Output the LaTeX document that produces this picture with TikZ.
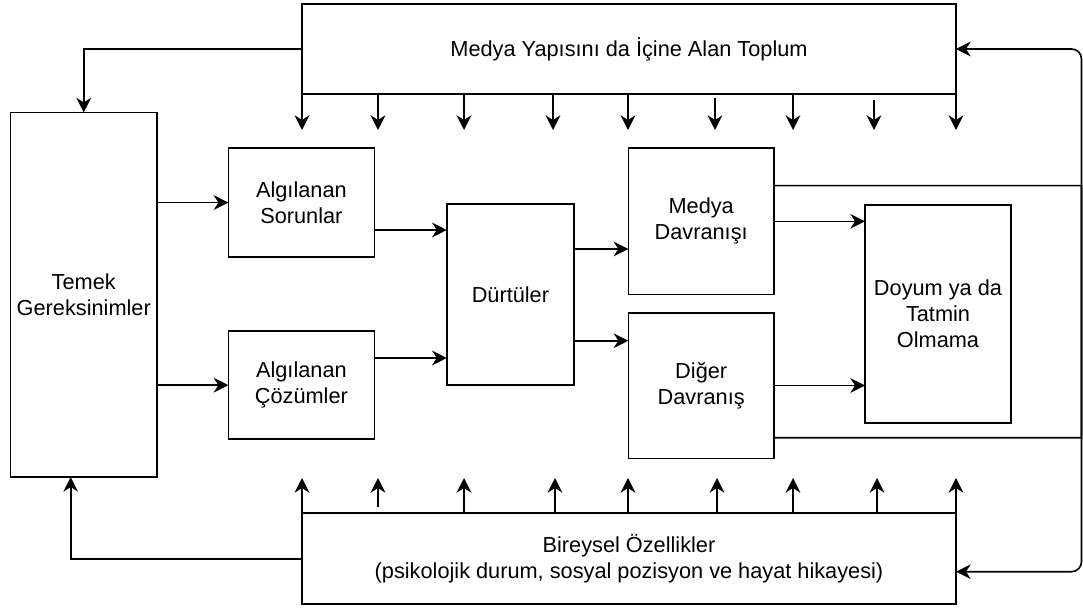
\documentclass[tikz,border=0pt]{standalone}
\usepackage{fontspec}
\setmainfont{Liberation Sans}
\usetikzlibrary{arrows.meta}
\begin{document}
\begin{tikzpicture}[x=0.75pt,y=-0.75pt,
  box/.style={draw, line width=1.2pt, align=center, inner sep=0pt, outer sep=0pt, font=\fontsize{16.3}{19.5}\selectfont},
  arr/.style={line width=1.2pt, -{Stealth[length=11pt,width=11pt,inset=3.5pt]}},
  ln/.style={line width=1.2pt}]
\useasboundingbox (0,0) rectangle (1083,610);
\node[box, minimum width=490.5pt, minimum height=67.5pt] (top) at (629,49) {Medya Yapısını da İçine Alan Toplum};
\node[box, minimum width=490.5pt, minimum height=68.25pt] (bot) at (629,558.5) {Bireysel Özellikler\\(psikolojik durum, sosyal pozisyon ve hayat hikayesi)};
\node[box, minimum width=109.9pt, minimum height=273.4pt] (temek) at (83.75,294.75) {Temek\\Gereksinimler};
\node[box, minimum width=109.5pt, minimum height=81.75pt] (sor) at (301.4,202.6) {Algılanan\\Sorunlar};
\node[box, minimum width=109.5pt, minimum height=81pt] (coz) at (301.4,385.2) {Algılanan\\Çözümler};
\node[box, minimum width=95.5pt, minimum height=135.75pt] (durt) at (510.4,294.5) {Dürtüler};
\node[box, minimum width=109.3pt, minimum height=109.5pt] (medya) at (701.2,221.3) {Medya\\Davranışı};
\node[box, minimum width=109.3pt, minimum height=109.2pt] (diger) at (701.2,385.5) {Diğer\\Davranış};
\node[box, minimum width=109.5pt, minimum height=163.3pt] (doyum) at (938,313.9) {Doyum ya da\\Tatmin\\Olmama};

% society -> needs, individual -> needs
\draw[arr] (top.west |- 0,49.3) -| (temek.north);
\draw[arr] (bot.west |- 0,559) -| (temek.south -| 70.7,0);

% arrows down from society
\draw[arr] (top.south west) -- (top.south west |- 0,130);
\foreach \x in {378,464,553,628,793} \draw[arr] (top.south -| \x,0) -- (\x,130);
\draw[arr] (715,98) -- (715,130);
\draw[arr] (874,100) -- (874,130);
\draw[arr] (top.south east) -- (top.south east |- 0,130);

% arrows up from individual
\draw[arr] (bot.north west) -- (bot.north west |- 0,478);
\foreach \x in {464,555,628,717,793,877} \draw[arr] (bot.north -| \x,0) -- (\x,478);
\draw[arr] (378,507) -- (378,478);
\draw[arr] (bot.north east) -- (bot.north east |- 0,478);

% main flow
\draw[arr] (temek.east |- sor.west) -- (sor.west);
\draw[arr] (temek.east |- coz.west) -- (coz.west);
\draw[arr] (sor.east |- 0,230) -- (durt.west |- 0,230);
\draw[arr] (coz.east |- 0,358) -- (durt.west |- 0,358);
\draw[arr] (durt.east |- 0,249) -- (medya.west |- 0,249);
\draw[arr] (durt.east |- 0,340.7) -- (diger.west |- 0,340.7);
\draw[arr] (medya.east) -- (doyum.west |- medya.east);
\draw[arr] (diger.east) -- (doyum.west |- diger.east);

% feedback loops on the right
\draw[arr] (medya.east |- 0,185.7) -- (1081.5,185.7) -- (1081.5,500) [rounded corners=7.5pt] -- (1081.5,571.7) -- (bot.east |- 0,571.7);
\draw[arr] (diger.east |- 0,437.7) -- (1081.5,437.7) -- (1081.5,120) [rounded corners=7.5pt] -- (1081.5,49) -- (top.east |- 0,49);
\end{tikzpicture}
\end{document}
